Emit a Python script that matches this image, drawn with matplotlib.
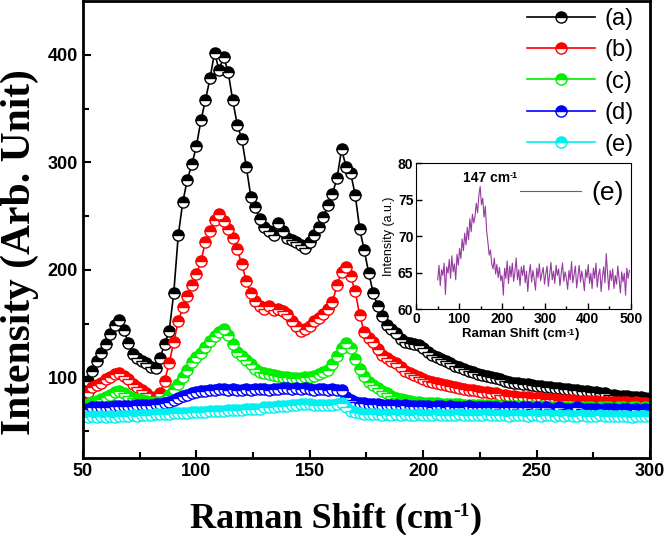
import numpy as np
import matplotlib
matplotlib.use("Agg")
import matplotlib.pyplot as plt

# Raman shift grid of the main panel (cm-1)
shift = np.arange(50, 301, 2)

int_a = [88, 97, 106, 115, 123, 131, 140, 149, 153, 144,
         132, 122, 118, 115, 113, 110, 109, 118, 131, 143,
         178, 232, 263, 284, 298, 315, 339, 358, 378, 402,
         386, 398, 384, 358, 335, 322, 296, 268, 258, 247,
         240, 236, 232, 244, 236, 230, 228, 226, 223, 220,
         226, 232, 240, 249, 260, 271, 285, 312, 296, 290,
         270, 238, 218, 197, 178, 166, 157, 149, 145, 141,
         136, 133, 132, 131, 130, 127, 124, 121, 119, 117,
         115, 113, 111, 110, 108, 106, 105, 103, 102, 101,
         100, 99, 98, 97, 96, 95, 95, 94, 94, 93,
         92, 92, 91, 91, 90, 90, 89, 89, 88, 88,
         87, 87, 86, 86, 85, 85, 84, 84, 83, 83,
         83, 82, 82, 82, 81, 81]
int_b = [80, 86, 91, 93, 95, 98, 100, 103, 104, 101,
         98, 94, 91, 88, 85, 82, 82, 85, 97, 113,
         133, 152, 165, 176, 186, 196, 208, 226, 236, 246,
         252, 245, 238, 230, 219, 205, 190, 178, 171, 166,
         164, 166, 163, 164, 162, 159, 152, 148, 143, 145,
         148, 152, 155, 159, 164, 170, 186, 198, 203, 194,
         180, 158, 142, 137, 133, 126, 121, 118, 115, 113,
         110, 106, 104, 102, 100, 98, 97, 96, 95, 94,
         93, 92, 91, 90, 89, 88, 88, 87, 86, 86,
         85, 85, 84, 84, 83, 83, 82, 82, 82, 81,
         81, 81, 80, 80, 80, 79, 79, 79, 79, 78,
         78, 78, 78, 78, 77, 77, 77, 77, 77, 77,
         77, 76, 77, 76, 76, 76]
int_c = [73, 75, 77, 78, 80, 82, 84, 86, 87, 85,
         83, 81, 80, 79, 78, 77, 77, 77, 79, 84,
         89, 94, 100, 107, 114, 119, 123, 128, 134, 138,
         142, 145, 139, 131, 124, 120, 116, 112, 108, 105,
         104, 103, 102, 101, 100, 100, 99, 99, 99, 100,
         100, 101, 103, 105, 107, 112, 120, 127, 132, 127,
         117, 108, 101, 96, 93, 90, 87, 85, 83, 81,
         80, 79, 78, 77, 77, 76, 76, 76, 76, 75,
         75, 75, 75, 75, 74, 74, 74, 74, 74, 74,
         73, 74, 73, 73, 73, 73, 73, 73, 72, 73,
         72, 73, 72, 72, 72, 72, 72, 72, 72, 72,
         72, 72, 72, 71, 72, 72, 72, 71, 72, 72,
         71, 72, 72, 71, 72, 72]
int_d = [71, 71, 72, 72, 72, 72, 72, 73, 73, 73,
         73, 73, 74, 74, 74, 74, 75, 75, 76, 77,
         79, 81, 83, 84, 85, 86, 87, 87, 88, 88,
         89, 89, 88, 89, 88, 88, 89, 88, 89, 89,
         89, 88, 89, 89, 90, 90, 89, 90, 89, 90,
         89, 88, 89, 89, 88, 89, 88, 88, 82, 79,
         77, 76, 76, 75, 75, 75, 74, 74, 74, 74,
         73, 74, 73, 73, 73, 73, 73, 72, 73, 73,
         72, 73, 72, 72, 72, 73, 72, 72, 72, 72,
         72, 72, 71, 72, 72, 72, 71, 72, 72, 71,
         72, 71, 72, 71, 71, 72, 71, 71, 71, 72,
         71, 71, 71, 71, 70, 71, 71, 71, 70, 71,
         71, 70, 71, 70, 71, 70]
int_e = [64, 63, 64, 63, 64, 63, 64, 63, 64, 64,
         64, 65, 64, 65, 65, 65, 66, 66, 66, 66,
         67, 67, 67, 67, 68, 68, 68, 68, 69, 69,
         69, 69, 70, 70, 70, 70, 71, 71, 71, 71,
         72, 72, 72, 73, 73, 73, 74, 74, 75, 75,
         75, 74, 74, 74, 74, 74, 75, 76, 72, 69,
         68, 67, 66, 66, 66, 66, 65, 66, 65, 66,
         65, 66, 65, 65, 66, 65, 65, 65, 66, 65,
         65, 65, 65, 66, 65, 65, 65, 65, 65, 66,
         65, 65, 65, 65, 64, 65, 65, 65, 64, 65,
         65, 64, 65, 65, 64, 65, 64, 65, 64, 64,
         65, 64, 64, 64, 65, 64, 64, 64, 64, 64,
         64, 63, 64, 64, 64, 64]

labels = ["(a)", "(b)", "(c)", "(d)", "(e)"]
colors = ["black", "#ff0000", "#00ee00", "#0000ff", "#00f0f0"]

# inset: sample (e) over a wider range
shift_e = np.arange(50, 500, 3)
int_e_wide = [
    64.0, 66.0, 63.2, 65.4, 64.6, 66.3, 62.0, 65.8, 64.9, 66.8, 64.2, 67.3, 65.1, 66.2, 64.0, 67.5, 66.0,
    68.3, 66.9, 69.6, 68.0, 70.4, 68.8, 71.2, 69.5, 72.4, 70.6, 73.0, 71.8, 72.7, 74.5, 73.2, 75.6, 76.8,
    74.3, 75.2, 72.6, 74.1, 70.8, 69.2, 67.4, 68.1, 66.2, 65.5, 67.0, 64.8, 66.1, 64.3, 65.7, 63.9, 64.6,
    61.9, 65.6, 64.2, 66.6, 63.5, 65.9, 64.4, 66.3, 63.8, 65.1, 67.0, 64.0, 65.4, 63.2, 65.8, 64.6, 66.0,
    63.6, 65.2, 62.4, 64.8, 66.1, 63.7, 65.3, 64.1, 62.6, 65.6, 64.3, 66.2, 63.9, 64.9, 65.7, 63.4, 64.8,
    65.9, 63.1, 64.7, 66.4, 64.0, 65.2, 63.5, 66.0, 64.6, 65.5, 63.2, 64.9, 66.3, 63.8, 65.1, 64.2, 62.7,
    65.3, 64.0, 66.5, 63.6, 64.8, 65.9, 62.9, 64.5, 66.0, 63.7, 65.2, 64.1, 62.5, 65.4, 64.3, 66.1, 63.5,
    64.9, 62.8, 65.6, 64.2, 66.3, 63.0, 64.7, 65.5, 62.4, 64.4, 65.8, 63.6, 67.6, 64.9, 62.6, 65.3, 63.9,
    65.5, 62.8, 64.6, 63.4, 65.9, 64.0, 62.2, 65.1, 63.7, 64.9, 61.9, 65.6, 64.2, 65.3]

SANS = "Liberation Sans"
SERIF = "Liberation Serif"

fig = plt.figure(figsize=(6.66, 5.35), dpi=100)
ax = fig.add_axes([0.1246, 0.144, 0.8514, 0.854])


def sup_text(host, x, y, base, sup, tail, size, sup_size, family):
    """texto 'base' + superíndice pequeño + cola, en coords de figura"""
    t1 = fig.text(x, y, base, fontsize=size, family=family, weight="bold",
                  ha="left", va="baseline")
    t2 = host.annotate(sup, xy=(1, 0.97), xycoords=t1, ha="left", va="top",
                       fontsize=sup_size, family=family, weight="bold")
    if tail:
        host.annotate(tail, xy=(1, 0), xycoords=(t2, t1), ha="left", va="bottom",
                      fontsize=size, family=family, weight="bold")


for y, lab, c in zip([int_a, int_b, int_c, int_d, int_e], labels, colors):
    ax.plot(shift, y, "-o", color=c, lw=1.2, ms=8, mew=1.0, mec=c,
            fillstyle="top", mfc=c, markerfacecoloralt="white", label=lab)

ax.set_xlim(50, 300)
ax.set_ylim(25, 450)
ax.set_xticks([50, 100, 150, 200, 250, 300])
ax.set_xticks(np.arange(75, 300, 50), minor=True)
ax.set_yticks([100, 200, 300, 400])
ax.set_yticks([50, 150, 250, 350], minor=True)
ax.tick_params(which="both", direction="in", width=1.5, top=False, right=False)
ax.tick_params(which="major", length=6, labelsize=13)
ax.tick_params(which="minor", length=4)
for lab in ax.get_xticklabels() + ax.get_yticklabels():
    lab.set_fontfamily(SANS)
    lab.set_fontweight("bold")
for sp in ax.spines.values():
    sp.set_linewidth(2)

sup_text(ax, 190 / 666, 1 - 527 / 535, "Raman Shift (cm", "-1", ")", 26, 14, SERIF)
ax.set_ylabel("Intensity (Arb. Unit)", family=SERIF, weight="bold",
              fontsize=30, labelpad=4)
ax.yaxis.set_label_coords(-0.077, 0.45)

ax.legend(loc="upper right", bbox_to_anchor=(0.988, 1.006), frameon=False,
          numpoints=1, handlelength=2.9, handletextpad=0.4, labelspacing=0.4,
          borderaxespad=0.0, prop={"family": SANS, "size": 17})

# inset
axi = fig.add_axes([0.625, 0.4224, 0.322, 0.2726])
axi.plot(shift_e, int_e_wide, color="#8b2596", lw=0.8, alpha=0.9, label="(e)")
axi.set_xlim(0, 500)
axi.set_ylim(60, 80)
axi.set_xticks(np.arange(0, 501, 100))
axi.set_xticks(np.arange(50, 500, 100), minor=True)
axi.set_yticks(np.arange(60, 81, 5))
axi.tick_params(which="both", direction="in", top=False, right=False, width=1)
axi.tick_params(which="major", length=4, labelsize=10, pad=2)
axi.tick_params(which="minor", length=2.5)
for lab in axi.get_xticklabels() + axi.get_yticklabels():
    lab.set_fontfamily(SANS)
    lab.set_fontweight("bold")
axi.set_ylabel("Intensity (a.u.)", family=SANS, fontsize=9, labelpad=2)
sup_text(axi, 462 / 666, 1 - 337 / 535, "Raman Shift (cm", "-1", ")", 9.5, 6.5, SANS)
sup_text(axi, 463 / 666, 1 - 182 / 535, "147 cm", "-1", None, 10, 6.5, SANS)
axi.legend(loc="upper right", bbox_to_anchor=(1.0, 0.92), frameon=False,
           handlelength=2.3, handletextpad=0.4, borderaxespad=0.0, borderpad=0.25,
           prop={"family": SANS, "size": 19})

fig.savefig("out.png", dpi=100)
